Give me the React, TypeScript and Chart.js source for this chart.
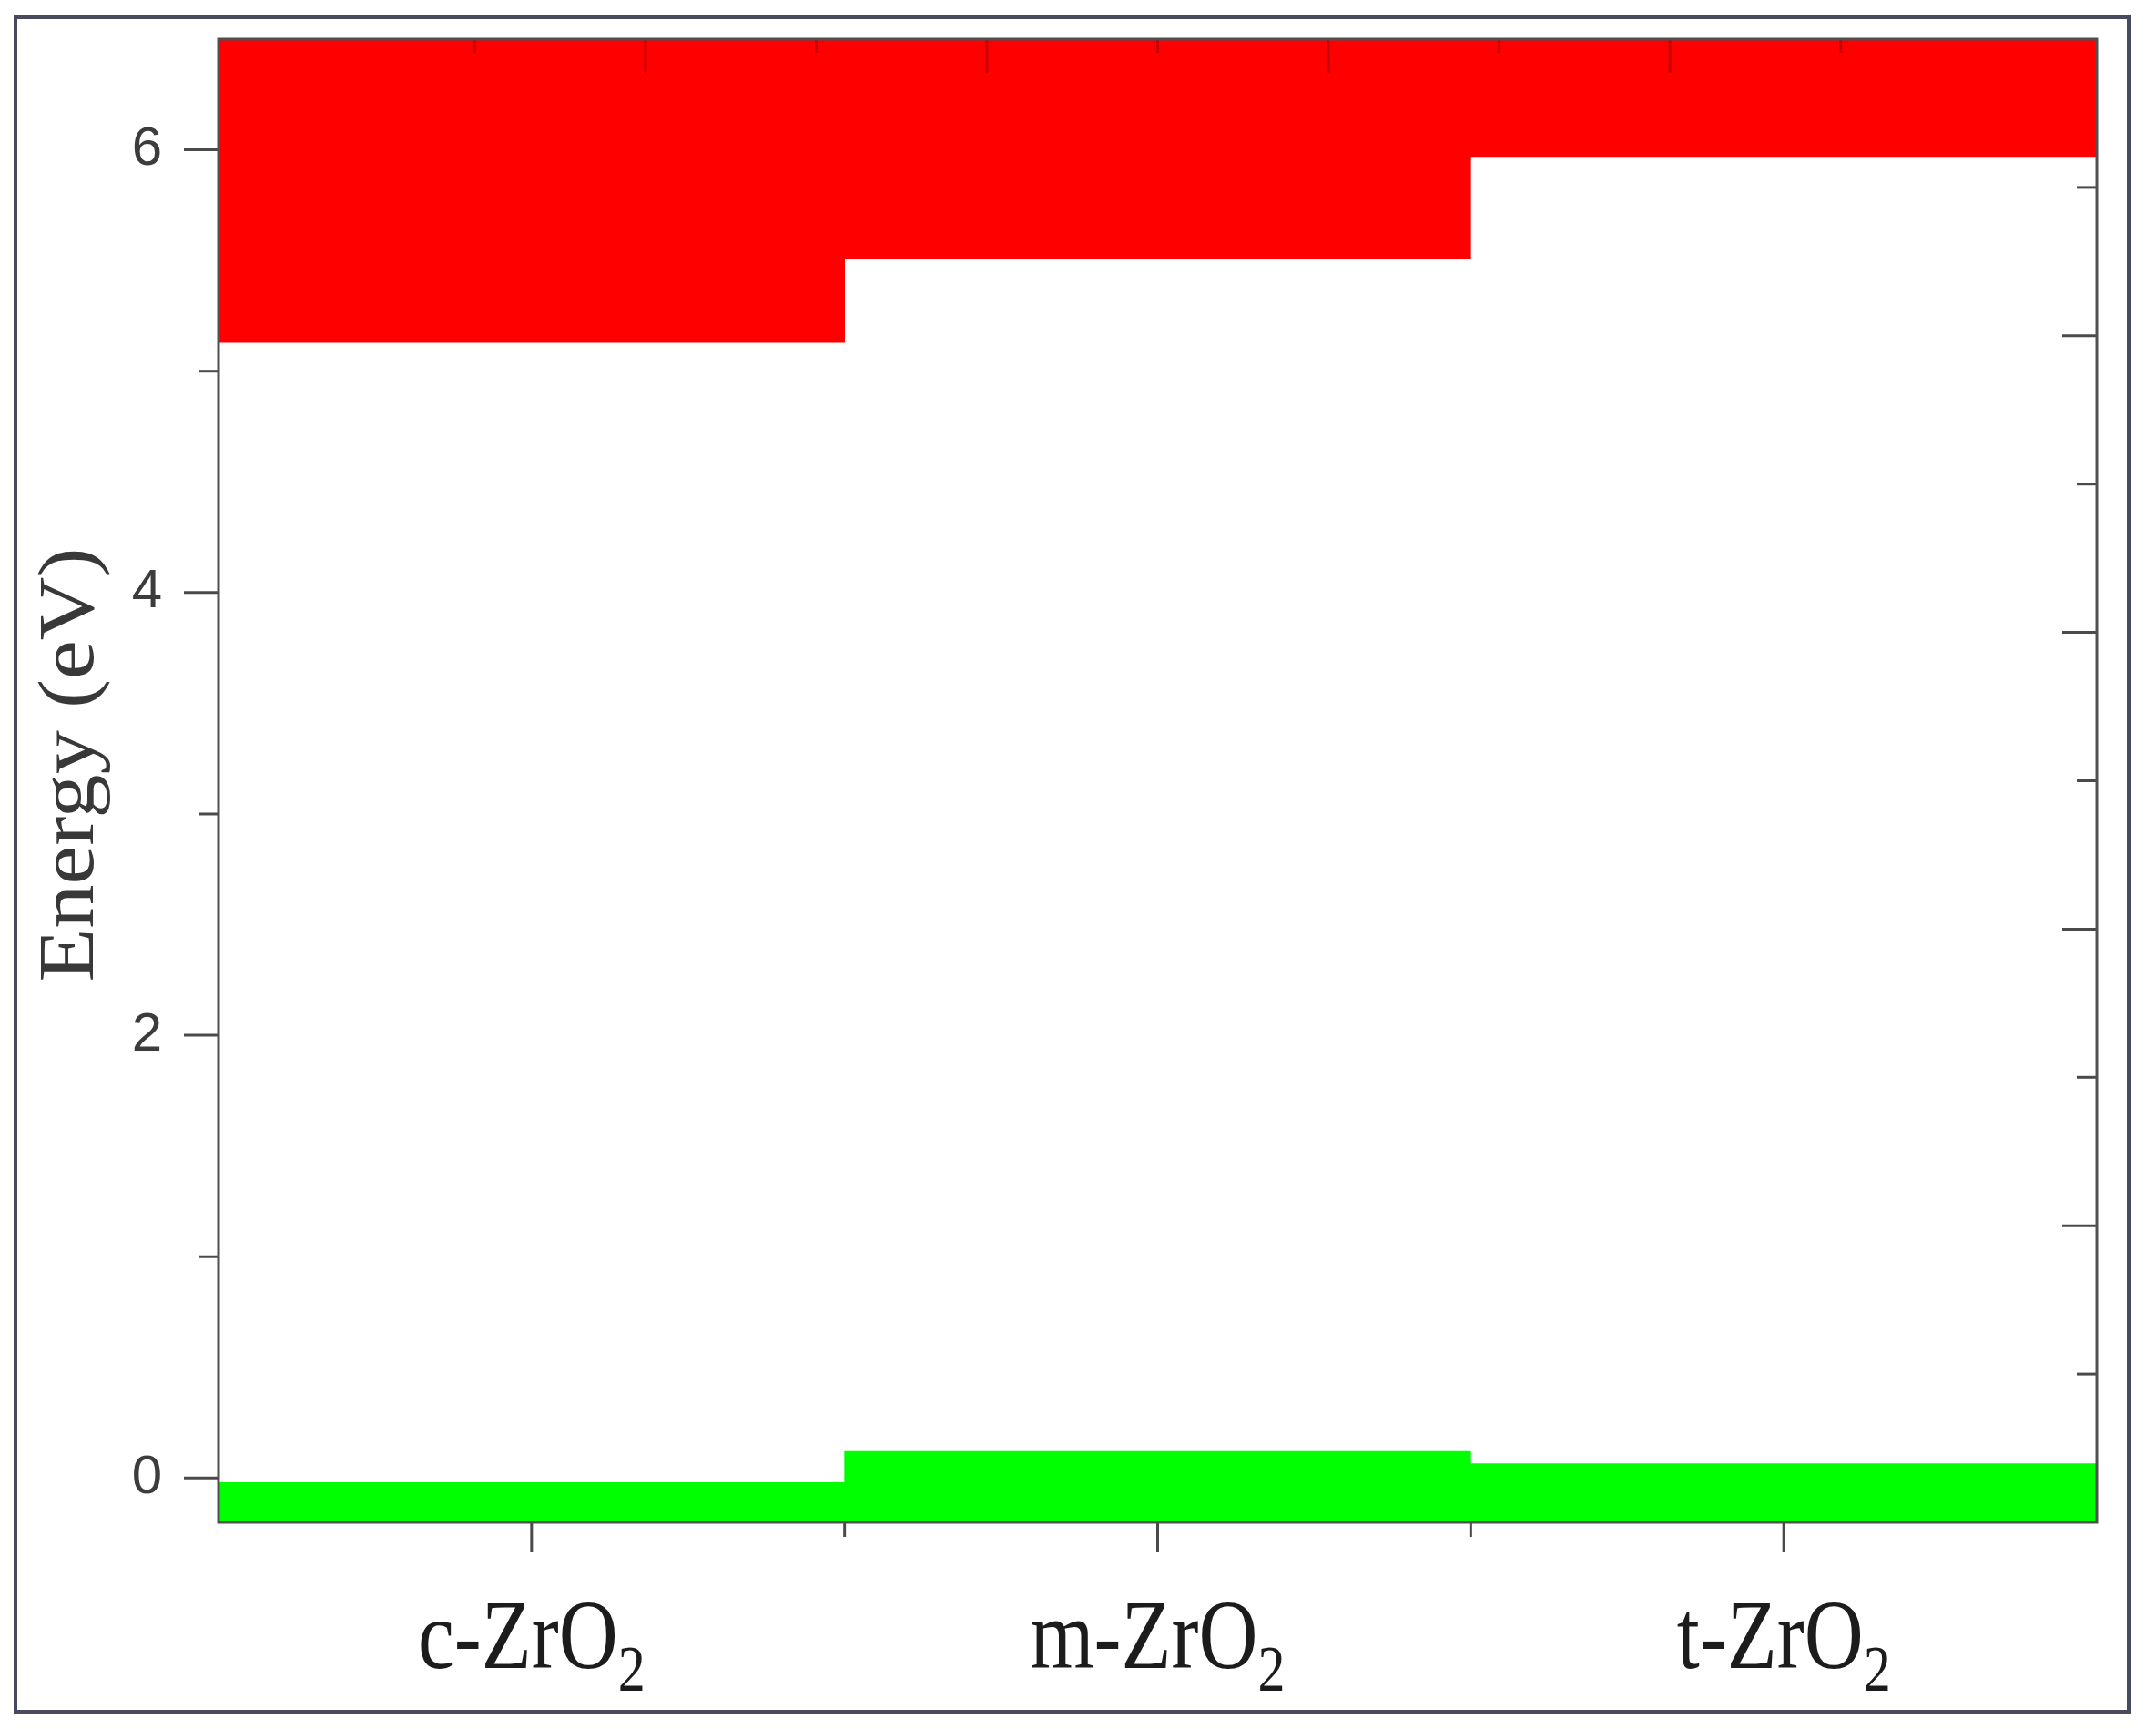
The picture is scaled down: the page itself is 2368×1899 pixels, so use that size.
import React, { useEffect, useRef } from 'react';
import { Chart, registerables } from 'chart.js';

Chart.register(...registerables);

// ---- data ----
const categories = ['c-ZrO2', 'm-ZrO2', 't-ZrO2'];
const labelMain = ['c-ZrO', 'm-ZrO', 't-ZrO'];
const labelSub = ['2', '2', '2'];
const conductionBandMinimum = [5.13, 5.51, 5.97];
const conductionBandUpper = [6.5, 6.5, 6.5];
const valenceBandMaximum = [-0.02, 0.12, 0.065];
const valenceBandLower = [-0.2, -0.2, -0.2];
const yMajorTicks = [0, 2, 4, 6];
const yTickLabels = ['0', '2', '4', '6'];
const yMinorTicks = [1, 3, 5];
const rightMajorTicks = [1, 2, 3, 4];
const rightMinorTicks = [0.5, 1.5, 2.5, 3.5, 4.5];
const topMajorTicks = [0.2, 0.4, 0.6, 0.8];
const topMinorTicks = [0.1, 0.3, 0.5, 0.7, 0.9];
const yTitle = 'Energy (eV)';

const W = 2368;
const H = 1899;

const decorPlugin = {
  id: 'decor',
  beforeDraw(chart: any) {
    const { ctx } = chart;
    ctx.save();
    ctx.fillStyle = '#ffffff';
    ctx.fillRect(0, 0, chart.width, chart.height);
    ctx.restore();
  },
  afterDatasetsDraw(chart: any) {
    const { ctx, chartArea: a, scales } = chart;
    const ys = scales.y;
    const y2 = scales.y2;
    const xs = scales.x;
    const xt = scales.xTop;
    ctx.save();
    ctx.lineCap = 'butt';
    ctx.strokeStyle = '#4a4a4a';
    ctx.lineWidth = 3;
    const line = (x1: number, y1: number, x2: number, y2p: number) => {
      ctx.beginPath();
      ctx.moveTo(x1, y1);
      ctx.lineTo(x2, y2p);
      ctx.stroke();
    };
    // left axis ticks (outward)
    yMajorTicks.forEach((v) => {
      const p = ys.getPixelForValue(v);
      line(a.left - 38, p, a.left, p);
    });
    yMinorTicks.forEach((v) => {
      const p = ys.getPixelForValue(v);
      line(a.left - 21, p, a.left, p);
    });
    // bottom axis ticks (outward)
    categories.forEach((_, i) => {
      const p = xs.getPixelForValue(i);
      line(p, a.bottom, p, a.bottom + 33);
    });
    for (let i = 0; i < categories.length - 1; i++) {
      const p = (xs.getPixelForValue(i) + xs.getPixelForValue(i + 1)) / 2;
      line(p, a.bottom, p, a.bottom + 16);
    }
    // right axis ticks (inward)
    rightMajorTicks.forEach((v) => {
      const p = y2.getPixelForValue(v);
      line(a.right - 38, p, a.right, p);
    });
    rightMinorTicks.forEach((v) => {
      const p = y2.getPixelForValue(v);
      line(a.right - 22, p, a.right, p);
    });
    // top axis ticks (inward, faint over the band)
    ctx.strokeStyle = 'rgba(0,0,0,0.22)';
    topMajorTicks.forEach((v) => {
      const p = xt.getPixelForValue(v);
      line(p, a.top, p, a.top + 37);
    });
    topMinorTicks.forEach((v) => {
      const p = xt.getPixelForValue(v);
      line(p, a.top, p, a.top + 15);
    });
    // axis box
    ctx.strokeStyle = '#505050';
    ctx.lineWidth = 3;
    ctx.strokeRect(a.left, a.top, a.right - a.left, a.bottom - a.top);
    ctx.restore();
  },
  afterDraw(chart: any) {
    const { ctx, scales } = chart;
    const xs = scales.x;
    ctx.save();
    // category labels with subscript
    ctx.fillStyle = '#1c1c1c';
    ctx.textBaseline = 'alphabetic';
    ctx.textAlign = 'left';
    categories.forEach((_, i) => {
      ctx.font = '90px "Liberation Serif"';
      const mw = ctx.measureText(labelMain[i]).width;
      ctx.font = '60px "Liberation Serif"';
      const sw = ctx.measureText(labelSub[i]).width;
      const cx = xs.getPixelForValue(i);
      const x0 = cx - (mw + sw) / 2;
      ctx.save();
      ctx.translate(0, 1832);
      ctx.scale(1, 1.2);
      ctx.font = '90px "Liberation Serif"';
      ctx.fillText(labelMain[i], x0, 0);
      ctx.font = '60px "Liberation Serif"';
      ctx.fillText(labelSub[i], x0 + mw, 21);
      ctx.restore();
    });
    // y title
    ctx.save();
    ctx.fillStyle = '#383838';
    ctx.translate(102, 840);
    ctx.rotate(-Math.PI / 2);
    ctx.scale(1.12, 1);
    ctx.textAlign = 'center';
    ctx.textBaseline = 'alphabetic';
    ctx.font = '86px "Liberation Serif"';
    ctx.fillText(yTitle, 0, 0);
    ctx.restore();
    // outer frame
    ctx.strokeStyle = '#474b5d';
    ctx.lineWidth = 4;
    ctx.strokeRect(17, 19, 2338 - 17, 1880 - 19);
    ctx.restore();
  },
};

export default function App() {
  const ref = useRef<HTMLCanvasElement | null>(null);

  useEffect(() => {
    if (!ref.current) return;
    const chart = new Chart(ref.current, {
      type: 'bar',
      data: {
        labels: categories,
        datasets: [
          {
            label: 'Conduction band',
            data: categories.map((_, i) => [conductionBandMinimum[i], conductionBandUpper[i]]) as any,
            backgroundColor: '#ff0000',
            borderWidth: 0,
            grouped: false,
            barPercentage: 1,
            categoryPercentage: 1,
          } as any,
          {
            label: 'Valence band',
            data: categories.map((_, i) => [valenceBandLower[i], valenceBandMaximum[i]]) as any,
            backgroundColor: '#00ff00',
            borderWidth: 0,
            grouped: false,
            barPercentage: 1,
            categoryPercentage: 1,
          } as any,
        ],
      },
      options: {
        responsive: false,
        animation: false,
        devicePixelRatio: 1,
        layout: { padding: 0 },
        plugins: {
          legend: { display: false },
          tooltip: { enabled: false },
          title: { display: false },
        },
        scales: {
          x: {
            type: 'category',
            position: 'bottom',
            offset: true,
            grid: { display: false, drawTicks: false },
            border: { display: false },
            ticks: { display: false },
            afterFit: (s: any) => {
              s.height = 227;
              s.paddingLeft = 0;
              s.paddingRight = 0;
            },
          },
          xTop: {
            type: 'linear',
            position: 'top',
            min: 0,
            max: 1,
            grid: { display: false, drawTicks: false },
            border: { display: false },
            ticks: { display: false },
            afterFit: (s: any) => {
              s.height = 43;
              s.paddingLeft = 0;
              s.paddingRight = 0;
            },
          },
          y: {
            type: 'linear',
            position: 'left',
            min: -0.2,
            max: 6.5,
            grid: { display: false, drawTicks: false },
            border: { display: false },
            afterBuildTicks: (s: any) => {
              s.ticks = yMajorTicks.map((v) => ({ value: v }));
            },
            ticks: {
              font: { family: 'Liberation Sans', size: 60 },
              color: '#3c3c3c',
              padding: 62,
              callback: (v: any) => {
                const k = yMajorTicks.indexOf(Number(v));
                return k >= 0 ? yTickLabels[k] : '';
              },
            },
            afterFit: (s: any) => {
              s.width = 240;
              s.paddingTop = 0;
              s.paddingBottom = 0;
            },
          },
          y2: {
            type: 'linear',
            position: 'right',
            min: 0,
            max: 5,
            grid: { display: false, drawTicks: false },
            border: { display: false },
            ticks: { display: false },
            afterFit: (s: any) => {
              s.width = 65;
              s.paddingTop = 0;
              s.paddingBottom = 0;
            },
          },
        } as any,
      },
      plugins: [decorPlugin],
    });
    return () => chart.destroy();
  }, []);

  return (
    <div style={{ position: 'absolute', left: 0, top: 0, width: W, height: H, background: '#fff' }}>
      <canvas ref={ref} width={W} height={H} style={{ display: 'block', width: W, height: H }} />
    </div>
  );
}
